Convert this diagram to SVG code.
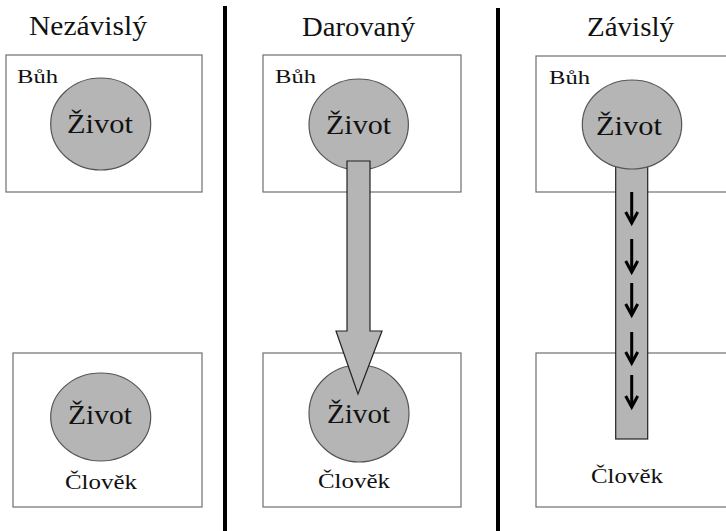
<svg xmlns="http://www.w3.org/2000/svg" width="726" height="531" viewBox="0 0 726 531">
<style>
text{font-family:'Liberation Serif','DejaVu Serif','Noto Serif',serif;fill:#111}
.box{fill:#fff;stroke:#6e6e6e;stroke-width:1.2}
.life{fill:#b5b5b5;stroke:#555;stroke-width:1.2}
.div{stroke:#000;stroke-width:4}
.flow{fill:#b5b5b5;stroke:#222;stroke-width:1.2}
.sm{fill:none;stroke:#000;stroke-width:3}
</style>
<rect width="726" height="531" fill="#fff"/>
<g id="dividers">
<line class="div" x1="225" y1="6" x2="225" y2="531"/>
<line class="div" x1="498" y1="8" x2="498" y2="531"/>
</g>
<g id="titles" font-family="Liberation Serif, DejaVu Serif, serif">
<text x="29" y="35" font-size="27" textLength="118" lengthAdjust="spacingAndGlyphs">Nezávislý</text>
<text x="302" y="36" font-size="27" textLength="113" lengthAdjust="spacingAndGlyphs">Darovaný</text>
<text x="587" y="36" font-size="27" textLength="87" lengthAdjust="spacingAndGlyphs">Závislý</text>
</g>
<g id="buh1">
<rect class="box" x="6" y="55" width="196" height="137"/>
<text x="17" y="83" font-size="19" textLength="41" lengthAdjust="spacingAndGlyphs">Bůh</text>
</g>
<g id="buh2">
<rect class="box" x="263" y="55" width="198" height="137"/>
<text x="275" y="83" font-size="19" textLength="41" lengthAdjust="spacingAndGlyphs">Bůh</text>
</g>
<g id="buh3">
<rect class="box" x="536" y="56" width="192" height="136"/>
<text x="549" y="84" font-size="19" textLength="41" lengthAdjust="spacingAndGlyphs">Bůh</text>
</g>
<g id="clovek1">
<rect class="box" x="13" y="353" width="189" height="154"/>
<text x="65" y="489" font-size="22" textLength="72" lengthAdjust="spacingAndGlyphs">Člověk</text>
</g>
<g id="clovek2">
<rect class="box" x="263" y="353" width="198" height="154"/>
<text x="318" y="488" font-size="22" textLength="72" lengthAdjust="spacingAndGlyphs">Člověk</text>
</g>
<g id="clovek3">
<rect class="box" x="536" y="353" width="192" height="154"/>
<text x="591" y="483" font-size="22" textLength="72" lengthAdjust="spacingAndGlyphs">Člověk</text>
</g>
<g id="zivot1">
<ellipse class="life" cx="100.7" cy="124" rx="50" ry="46"/>
<text x="67" y="133" font-size="27" textLength="66" lengthAdjust="spacingAndGlyphs">Život</text>
</g>
<g id="zivot4">
<ellipse class="life" cx="100.7" cy="417" rx="50" ry="44"/>
<text x="68" y="424" font-size="27" textLength="64" lengthAdjust="spacingAndGlyphs">Život</text>
</g>
<g id="zivot2">
<ellipse class="life" cx="358.7" cy="124.5" rx="49.7" ry="45.5"/>
<text x="326" y="134" font-size="27" textLength="65" lengthAdjust="spacingAndGlyphs">Život</text>
</g>
<g id="zivot5">
<ellipse class="life" cx="359" cy="413.5" rx="50" ry="48.5"/>
<text x="327" y="423" font-size="27" textLength="63" lengthAdjust="spacingAndGlyphs">Život</text>
</g>
<g id="connectors">
<polygon class="flow" points="347,161 370,161 370,331 382,331 358,394 336,331 347,331"/>
<rect class="flow" x="615.7" y="150" width="32" height="289"/>
<g id="small-arrows">
<line class="sm" x1="631.7" y1="192" x2="631.7" y2="222"/><polyline class="sm" points="625.7,212 631.7,223 637.7,212"/>
<line class="sm" x1="631.7" y1="239" x2="631.7" y2="271"/><polyline class="sm" points="625.7,261 631.7,272 637.7,261"/>
<line class="sm" x1="631.7" y1="283" x2="631.7" y2="314"/><polyline class="sm" points="625.7,304 631.7,315 637.7,304"/>
<line class="sm" x1="631.7" y1="332" x2="631.7" y2="362"/><polyline class="sm" points="625.7,352 631.7,363 637.7,352"/>
<line class="sm" x1="631.7" y1="375" x2="631.7" y2="406"/><polyline class="sm" points="625.7,396 631.7,407 637.7,396"/>
</g>
</g>
<g id="zivot3">
<ellipse class="life" cx="632" cy="124.5" rx="49.7" ry="44.5"/>
<text x="596" y="135" font-size="27" textLength="66" lengthAdjust="spacingAndGlyphs">Život</text>
</g>
</svg>
